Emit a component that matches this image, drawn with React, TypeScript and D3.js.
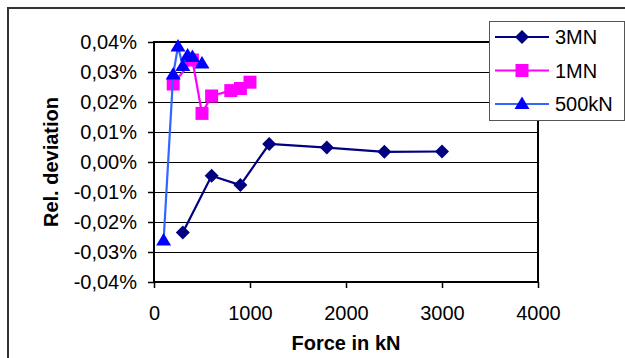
import { useEffect, useRef } from 'react';
import * as d3 from 'd3';

// Force in kN and relative deviation in %
const force3MN = [300, 600, 900, 1200, 1800, 2400, 3000];
const dev3MN = [-0.0235, -0.0046, -0.0077, 0.006, 0.0048, 0.0034, 0.0035];

const force1MN = [200, 400, 500, 600, 800, 900, 1000];
const dev1MN = [0.026, 0.034, 0.0162, 0.022, 0.0238, 0.0245, 0.0266];

const force500kN = [100, 200, 250, 300, 350, 400, 500];
const dev500kN = [-0.0262, 0.0292, 0.0385, 0.032, 0.0355, 0.035, 0.0328];

const xTicks = [0, 1000, 2000, 3000, 4000];
const yTicks = [-0.04, -0.03, -0.02, -0.01, 0, 0.01, 0.02, 0.03, 0.04];

const seriesNames = ['3MN', '1MN', '500kN'];

const W = 625;
const H = 358;

// marker shapes, drawn around (0,0)
const diamond = 'M0,-7L7,0L0,7L-7,0Z';
const square = 'M-6.5,-6.5H6.5V6.5H-6.5Z';
const triangle = 'M0,-7.5L7.5,5L-7.5,5Z';

const App = () => {
  const svgRef = useRef<SVGSVGElement | null>(null);

  useEffect(() => {
    const svg = d3.select(svgRef.current);
    svg.selectAll('*').remove();

    const font = 'Liberation Sans, Arial, sans-serif';
    const margin = { top: 42, right: 87, bottom: 76, left: 154 };
    const pw = W - margin.left - margin.right;
    const ph = H - margin.top - margin.bottom;

    // outer chart frame
    svg.append('rect')
      .attr('x', 8).attr('y', 8)
      .attr('width', W).attr('height', H)
      .attr('fill', '#fff')
      .attr('stroke', '#333')
      .attr('stroke-width', 2);

    const g = svg.append('g')
      .attr('transform', `translate(${margin.left},${margin.top})`);

    const x = d3.scaleLinear().domain([0, 4000]).range([0, pw]);
    const y = d3.scaleLinear().domain([-0.04, 0.04]).range([ph, 0]);

    // gridlines
    g.selectAll('.grid')
      .data(yTicks)
      .enter()
      .append('line')
      .attr('x1', 0).attr('x2', pw)
      .attr('y1', d => Math.round(y(d)) + 0.5)
      .attr('y2', d => Math.round(y(d)) + 0.5)
      .attr('stroke', '#000')
      .attr('stroke-width', 1);

    // plot border
    g.append('rect')
      .attr('x', 0).attr('y', 0)
      .attr('width', pw).attr('height', ph)
      .attr('fill', 'none')
      .attr('stroke', '#000')
      .attr('stroke-width', 2);

    // Y axis
    const yAxis = g.append('g')
      .call(d3.axisLeft(y).tickValues(yTicks).tickSize(6).tickPadding(11)
        .tickFormat(d => (+d).toFixed(2).replace('.', ',').replace('-0,00', '0,00') + '%'));
    yAxis.select('.domain').remove();
    yAxis.selectAll('.tick line').attr('stroke', '#000').attr('stroke-width', 1.5);
    yAxis.selectAll('text')
      .style('font-family', font)
      .style('font-size', '20px')
      .attr('fill', '#000');

    // X axis
    const xAxis = g.append('g')
      .attr('transform', `translate(0,${ph})`)
      .call(d3.axisBottom(x).tickValues(xTicks).tickSize(6).tickPadding(18).tickFormat(d3.format('d')));
    xAxis.select('.domain').remove();
    xAxis.selectAll('.tick line').attr('stroke', '#000').attr('stroke-width', 1.5);
    xAxis.selectAll('text')
      .style('font-family', font)
      .style('font-size', '20px')
      .attr('fill', '#000');

    // axis titles
    svg.append('text')
      .attr('x', margin.left + pw / 2)
      .attr('y', 350)
      .attr('text-anchor', 'middle')
      .style('font-family', font)
      .style('font-size', '20px')
      .style('font-weight', 'bold')
      .text('Force in kN');

    svg.append('text')
      .attr('transform', `translate(58,${margin.top + ph / 2}) rotate(-90)`)
      .attr('text-anchor', 'middle')
      .style('font-family', font)
      .style('font-size', '20px')
      .style('font-weight', 'bold')
      .text('Rel. deviation');

    const series = [
      { xs: force3MN, ys: dev3MN, line: '#000080', fill: '#000080', shape: diamond },
      { xs: force1MN, ys: dev1MN, line: '#FF00FF', fill: '#FF00FF', shape: square },
      { xs: force500kN, ys: dev500kN, line: '#3366FF', fill: '#0000FF', shape: triangle },
    ];

    const line = d3.line<[number, number]>()
      .x(d => x(d[0]))
      .y(d => y(d[1]));

    series.forEach(s => {
      const pts: [number, number][] = s.xs.map((v, i) => [v, s.ys[i]]);
      g.append('path')
        .datum(pts)
        .attr('fill', 'none')
        .attr('stroke', s.line)
        .attr('stroke-width', 2.2)
        .attr('d', line);
      g.selectAll(null)
        .data(pts)
        .enter()
        .append('path')
        .attr('transform', d => `translate(${x(d[0])},${y(d[1])})`)
        .attr('d', s.shape)
        .attr('fill', s.fill);
    });

    // legend
    const lg = svg.append('g').attr('transform', 'translate(489,21)');
    lg.append('rect')
      .attr('x', 0.5).attr('y', 0.5)
      .attr('width', 135).attr('height', 99)
      .attr('fill', '#fff')
      .attr('stroke', '#555')
      .attr('stroke-width', 1);
    series.forEach((s, i) => {
      const cy = 16 + i * 33.5;
      lg.append('line')
        .attr('x1', 6).attr('x2', 60)
        .attr('y1', cy).attr('y2', cy)
        .attr('stroke', s.line)
        .attr('stroke-width', 2.2);
      lg.append('path')
        .attr('transform', `translate(33,${cy})`)
        .attr('d', s.shape)
        .attr('fill', s.fill);
      lg.append('text')
        .attr('x', 66).attr('y', cy)
        .attr('dy', '0.35em')
        .style('font-family', font)
        .style('font-size', '20px')
        .text(seriesNames[i]);
    });
  }, []);

  return (
    <div style={{ position: 'absolute', left: 0, top: 0 }}>
      <svg ref={svgRef} width={W} height={H} style={{ display: 'block' }} />
    </div>
  );
};

export default App;
